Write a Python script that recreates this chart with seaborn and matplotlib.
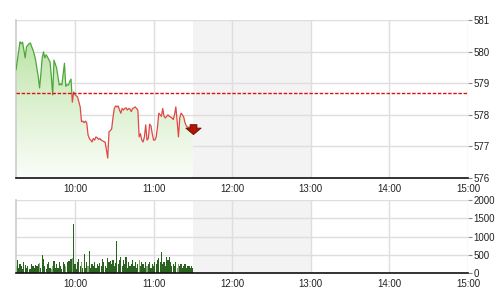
import numpy as np
import pandas as pd
import matplotlib
matplotlib.use("Agg")
import matplotlib.pyplot as plt
from matplotlib.patches import Rectangle
from matplotlib.path import Path
import seaborn as sns

sns.set_style("white")
plt.rcParams['font.family'] = ['Liberation Sans', 'DejaVu Sans']

# ---- data ----
start_time = "09:15"
end_time = "11:30"
prev_close = 578.7
price = [
    579.42, 579.7, 580.0, 580.31, 580.25, 580.3, 580.05, 579.8, 580.15, 580.2,
    580.25, 580.27, 580.15, 580.05, 579.9, 579.73, 579.45, 579.2, 578.85, 579.3,
    579.8, 579.99, 579.8, 579.9, 579.83, 579.75, 579.67, 579.2, 578.63, 579.73,
    579.6, 579.48, 579.2, 578.94, 578.98, 578.94, 579.3, 579.63, 578.9, 578.95,
    578.94, 579.05, 579.13, 578.4, 578.72, 578.65, 578.6, 578.56, 578.4, 578.25,
    577.78, 577.8, 577.75, 577.8, 577.74, 577.36, 577.25, 577.2, 577.14, 577.25,
    577.2, 577.3, 577.27, 577.22, 577.25, 577.2, 577.18, 577.15, 577.14, 576.9,
    576.63, 577.46, 577.5, 577.55, 577.9, 578.2, 578.28, 578.25, 578.28, 578.15,
    578.05, 578.2, 578.15, 578.2, 578.22, 578.15, 578.2, 578.18, 578.1, 578.2,
    578.22, 578.25, 578.2, 578.15, 577.3, 577.4, 577.2, 577.14, 577.3, 577.68,
    577.2, 577.25, 577.7, 577.65, 577.4, 577.2, 577.2, 577.3, 577.61, 578.05,
    578.0, 577.95, 578.2, 577.95, 577.9, 577.95, 578.0, 577.95, 577.93, 577.9,
    577.85, 578.0, 578.25, 577.8, 577.3, 577.9, 578.05, 578.0, 577.93, 577.75,
    577.65, 577.61, 577.6, 577.58, 577.6, 577.58,
]
volume = [
    200, 360, 150, 250, 180, 120, 300, 220, 150, 200,
    120, 100, 250, 200, 150, 220, 180, 250, 280, 150,
    500, 380, 200, 120, 260, 300, 150, 100, 200, 320,
    150, 250, 150, 300, 200, 120, 300, 250, 200, 300,
    320, 340, 380, 420, 1340, 250, 120, 300, 380, 200,
    300, 150, 530, 150, 300, 200, 590, 150, 250, 200,
    300, 150, 250, 200, 280, 200, 380, 300, 200, 150,
    400, 300, 320, 250, 350, 200, 280, 880, 250, 350,
    450, 200, 350, 250, 440, 150, 300, 200, 250, 350,
    200, 300, 150, 250, 350, 200, 300, 250, 150, 300,
    200, 250, 300, 150, 250, 200, 300, 250, 350, 400,
    300, 570, 250, 300, 200, 450, 350, 450, 300, 200,
    250, 200, 300, 150, 250, 200, 250, 150, 200, 250,
    150, 200, 180, 150, 200, 150,
]
tick_labels = ["10:00", "11:00", "12:00", "13:00", "14:00", "15:00"]
price_ticks = [576, 577, 578, 579, 580, 581]
vol_ticks = [0, 500, 1000, 1500, 2000]
break_start, break_end = "11:30", "13:00"

def to_min(s):
    h, m = s.split(":")
    return (int(h) - 9) * 60 + int(m)

times = pd.date_range("2000-01-01 " + start_time, "2000-01-01 " + end_time, freq="1min")
xm = (times.hour - 9) * 60 + times.minute
df = pd.DataFrame({"t": xm.astype(float), "price": price, "volume": volume})
df["up"] = df["price"].diff().fillna(0) > -0.3

x0, x1 = to_min("09:15"), to_min("15:00")
tick_pos = [to_min(t) for t in tick_labels]

fig = plt.figure(figsize=(5, 3), dpi=100)
ax = fig.add_axes([0.032, 0.4067, 0.904, 0.5267])
axv = fig.add_axes([0.032, 0.09, 0.904, 0.2433])

grid_c = "#dedede"
for a in (ax, axv):
    a.set_xlim(x0, x1)
    a.axvspan(to_min(break_start), to_min(break_end), color="#f3f3f3", zorder=0, lw=0)
    a.set_xticks(tick_pos)
    a.set_xticklabels(tick_labels)
    a.grid(True, color=grid_c, lw=1.0, zorder=0.5)
    a.set_axisbelow(True)
    a.yaxis.tick_right()
    a.tick_params(axis="y", length=3, width=0.8, color="#888888", pad=1, labelsize=7)
    a.tick_params(axis="x", length=0, pad=4, labelsize=7)
    for s in ("top", "right"):
        a.spines[s].set_visible(False)
    a.spines["left"].set_color("#cccccc")
    a.spines["left"].set_linewidth(1.2)
    a.spines["bottom"].set_color("#111111")
    a.spines["bottom"].set_linewidth(1.2)

# ---- price ----
ax.set_ylim(576, 581)
ax.set_yticks(price_ticks)

fill = ax.fill_between(df["t"], df["price"], 576, color="none", lw=0)
grad = np.linspace(0, 1, 256).reshape(-1, 1)
cmap = matplotlib.colors.LinearSegmentedColormap.from_list(
    "g", ["#fbfdf9", "#d9f0cc", "#b2dd99"])
im = ax.imshow(grad, extent=[x0, df["t"].iloc[-1], 576, 581], origin="lower",
               aspect="auto", cmap=cmap, zorder=1)
path = fill.get_paths()[0]
im.set_clip_path(path, transform=ax.transData)
ax.set_xlim(x0, x1)
ax.set_ylim(576, 581)

sns.lineplot(data=df, x="t", y="price", ax=ax, color="#e04848", lw=0.9, zorder=3)
red_line = ax.lines[-1]
sns.lineplot(data=df, x="t", y="price", ax=ax, color="#4aa83a", lw=0.9, zorder=3)
green_line = ax.lines[-1]
above = Rectangle((x0, prev_close), x1 - x0, 10, transform=ax.transData)
below = Rectangle((x0, prev_close - 10), x1 - x0, 10, transform=ax.transData)
green_line.set_clip_path(above)
red_line.set_clip_path(below)

ax.axhline(prev_close, color="#e01010", lw=1.0, ls=(0, (2.5, 1.2)), zorder=4)

arrow = Path([(-0.45, 0.5), (0.45, 0.5), (0.45, 0.05), (1.0, 0.05), (0, -0.8),
              (-1.0, 0.05), (-0.45, 0.05), (-0.45, 0.5)], closed=True)
ax.plot(df["t"].iloc[-1], df["price"].iloc[-1], marker=arrow, ms=11,
        color="#b01505", mec="#6a0a00", mew=0.6, zorder=5, clip_on=False)
ax.set_xlabel("")
ax.set_ylabel("")

# ---- volume ----
axv.set_ylim(0, 2000)
axv.set_yticks(vol_ticks)
colors = np.where(df["up"], "#2a6320", "#7fae70")
axv.bar(df["t"], df["volume"], width=0.9, color=colors, lw=0, zorder=2)
axv.set_xlabel("")
axv.set_ylabel("")

for a in (ax, axv):
    for lab in a.get_xticklabels() + a.get_yticklabels():
        lab.set_color("#222222")

fig.savefig("out.png", dpi=100)
